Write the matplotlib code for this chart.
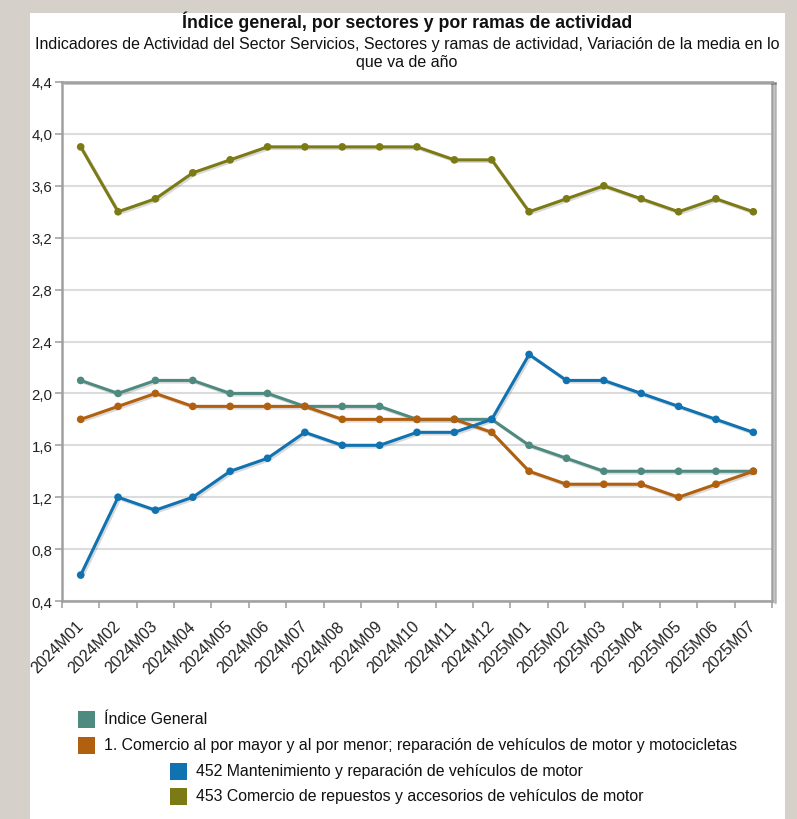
import matplotlib
matplotlib.use("Agg")
import matplotlib.pyplot as plt
import matplotlib.patheffects as pe
from matplotlib.patches import Rectangle
import numpy as np

plt.rcParams['font.family'] = ['Liberation Sans', 'DejaVu Sans']

categories = ["2024M01", "2024M02", "2024M03", "2024M04", "2024M05", "2024M06",
              "2024M07", "2024M08", "2024M09", "2024M10", "2024M11", "2024M12",
              "2025M01", "2025M02", "2025M03", "2025M04", "2025M05", "2025M06",
              "2025M07"]
indice_general = [2.1, 2.0, 2.1, 2.1, 2.0, 2.0, 1.9, 1.9, 1.9, 1.8, 1.8, 1.8,
                  1.6, 1.5, 1.4, 1.4, 1.4, 1.4, 1.4]
comercio = [1.8, 1.9, 2.0, 1.9, 1.9, 1.9, 1.9, 1.8, 1.8, 1.8, 1.8, 1.7,
            1.4, 1.3, 1.3, 1.3, 1.2, 1.3, 1.4]
mant_452 = [0.6, 1.2, 1.1, 1.2, 1.4, 1.5, 1.7, 1.6, 1.6, 1.7, 1.7, 1.8,
            2.3, 2.1, 2.1, 2.0, 1.9, 1.8, 1.7]
repuestos_453 = [3.9, 3.4, 3.5, 3.7, 3.8, 3.9, 3.9, 3.9, 3.9, 3.9, 3.8, 3.8,
                 3.4, 3.5, 3.6, 3.5, 3.4, 3.5, 3.4]
series_names = ["Índice General",
                "1. Comercio al por mayor y al por menor; reparación de vehículos de motor y motocicletas",
                "452 Mantenimiento y reparación de vehículos de motor",
                "453 Comercio de repuestos y accesorios de vehículos de motor"]
yticks = [0.4, 0.8, 1.2, 1.6, 2.0, 2.4, 2.8, 3.2, 3.6, 4.0, 4.4]
ytick_labels = ["0,4", "0,8", "1,2", "1,6", "2,0", "2,4", "2,8", "3,2", "3,6", "4,0", "4,4"]

colors = ["#4f8a80", "#b0600f", "#1072b0", "#7b7a14"]
series = [indice_general, comercio, mant_452, repuestos_453]

W, H = 797, 820
fig = plt.figure(figsize=(W / 100, H / 100), dpi=100)
fig.patch.set_facecolor("#d5d1ca")
# white panel
fig.patches.append(Rectangle((30 / W, 0), (785 - 30) / W, (H - 14) / H,
                             transform=fig.transFigure, facecolor="white",
                             edgecolor="none", zorder=-10))

L, R, T, B = 62, 772, 83, 602
ax = fig.add_axes([L / W, (H - B) / H, (R - L) / W, (B - T) / H])
ax.set_zorder(5)
ax.set_facecolor("white")

x = np.arange(len(categories))
order = [0, 1, 3, 2]
for i in order:
    ax.plot(x, series[i], color=colors[i], lw=2.2, marker="o", ms=5.5,
            markeredgewidth=0, zorder=3 + i, solid_joinstyle="round",
            path_effects=[pe.SimpleLineShadow(offset=(1.2, -1.2), alpha=0.22, shadow_color="#555555"),
                          pe.Normal()])

ax.set_xlim(-0.5, len(categories) - 0.5)
ax.set_ylim(0.4, 4.4)
ax.set_yticks(yticks)
ax.set_yticklabels(ytick_labels, fontsize=10.8, color="#222222")
ax.yaxis.grid(True, color="#dcdcdc", lw=1.5)
ax.set_axisbelow(True)

ax.set_xticks(x)
ax.set_xticklabels(categories, rotation=45, ha="right", va="center",
                   rotation_mode="anchor", fontsize=11.5, color="#222222")
ax.set_xticks(np.arange(len(categories) + 1) - 0.5, minor=True)
ax.tick_params(axis="x", which="major", length=0, pad=16)
ax.tick_params(axis="x", which="minor", length=5, color="#aaaaaa", width=1.3)
ax.tick_params(axis="y", length=5, color="#aaaaaa", width=1.3, pad=2)

for s in ["left", "bottom", "top", "right"]:
    ax.spines[s].set_color("#a0a0a0")
    ax.spines[s].set_linewidth(1.8)
ax.spines["right"].set_path_effects([pe.SimpleLineShadow(offset=(2, -1), alpha=0.3), pe.Normal()])
ax.spines["top"].set_path_effects([pe.SimpleLineShadow(offset=(2, -1), alpha=0.3), pe.Normal()])

fig.text(407 / W, 1 - 22 / H, "Índice general, por sectores y por ramas de actividad",
         ha="center", va="center", fontsize=12.8, fontweight="bold", color="#111111")
fig.text(407 / W, 1 - 45 / H,
         "Indicadores de Actividad del Sector Servicios, Sectores y ramas de actividad, Variación de la media en lo",
         ha="center", va="center", fontsize=11.5, color="#111111")
fig.text(407 / W, 1 - 62 / H, "que va de año", ha="center", va="center",
         fontsize=11.5, color="#111111")

leg_pos = [(78, 720), (78, 746), (170, 772), (170, 797)]
for i, (lx, ly) in enumerate(leg_pos):
    fig.patches.append(Rectangle((lx / W, 1 - (ly + 8.5) / H), 17 / W, 17 / H,
                                 transform=fig.transFigure, facecolor=colors[i],
                                 edgecolor="none", zorder=2))
    fig.text((lx + 26) / W, 1 - ly / H, series_names[i], ha="left", va="center",
             fontsize=11.4, color="#111111")

fig.savefig("out.png", dpi=100, facecolor=fig.get_facecolor())
